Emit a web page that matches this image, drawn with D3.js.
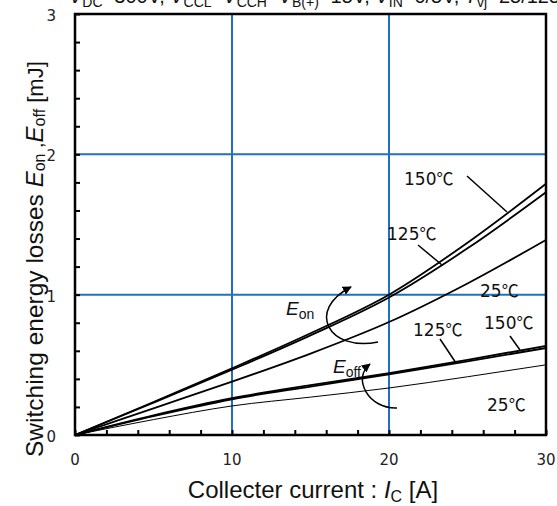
<!DOCTYPE html>
<html>
<head>
<meta charset="utf-8">
<script src="https://cdn.jsdelivr.net/npm/d3@7"></script>
<style>
  html, body { margin: 0; padding: 0; background: #fff; }
  svg { display: block; }
</style>
</head>
<body>
<svg id="chart" width="557" height="506"></svg>
<script>
// Collector current samples [A]
const ic = [0, 5, 10, 15, 20, 25, 30];

// Turn-on energy Eon [mJ]
const eon150 = [0, 0.235, 0.475, 0.725, 1.0, 1.37, 1.79];
const eon125 = [0, 0.23, 0.465, 0.71, 0.98, 1.33, 1.73];
const eon25  = [0, 0.19, 0.38, 0.58, 0.805, 1.08, 1.39];

// Turn-off energy Eoff [mJ]
const eoff150 = [0, 0.14, 0.262, 0.355, 0.44, 0.535, 0.635];
const eoff125 = [0, 0.135, 0.255, 0.345, 0.432, 0.525, 0.62];
const eoff25  = [0, 0.11, 0.207, 0.27, 0.335, 0.415, 0.50];

const xTicks = [0, 10, 20, 30];
const yTicks = [0, 1, 2, 3];

const svg = d3.select("#chart");
const m = { left: 75, right: 546, top: 14, bottom: 435 };

const x = d3.scaleLinear().domain([0, 30]).range([m.left, m.right]);
const y = d3.scaleLinear().domain([0, 3]).range([m.bottom, m.top]);

const blue = "#1f70c1";
const sans = "Liberation Sans, Arial, sans-serif";

// grid
svg.append("g").selectAll("line").data([10, 20]).join("line")
  .attr("x1", d => x(d)).attr("x2", d => x(d))
  .attr("y1", m.top).attr("y2", m.bottom)
  .attr("stroke", blue).attr("stroke-width", 2);
svg.append("g").selectAll("line").data([1, 2]).join("line")
  .attr("x1", m.left).attr("x2", m.right)
  .attr("y1", d => y(d)).attr("y2", d => y(d))
  .attr("stroke", blue).attr("stroke-width", 2);

// inward minor ticks
const xAxis = d3.axisTop(x).tickValues(d3.range(0, 31, 2)).tickSize(5).tickFormat("");
const yAxis = d3.axisRight(y).tickValues(d3.range(0, 3.01, 0.2)).tickSize(5).tickFormat("");
const gx = svg.append("g").attr("transform", `translate(0,${m.bottom})`).call(xAxis);
const gy = svg.append("g").attr("transform", `translate(${m.left},0)`).call(yAxis);
[gx, gy].forEach(g => {
  g.select(".domain").remove();
  g.selectAll("line").attr("stroke", "#000").attr("stroke-width", 2);
});

// tick labels
svg.append("g").selectAll("text").data(xTicks).join("text")
  .attr("x", d => x(d)).attr("y", 465)
  .attr("text-anchor", "middle")
  .attr("font-family", "DejaVu Sans").attr("font-size", 15).attr("fill", "#222")
  .text(d => d);
svg.append("g").selectAll("text").data(yTicks).join("text")
  .attr("x", 56).attr("y", d => y(d) + 7)
  .attr("text-anchor", "end")
  .attr("font-family", "DejaVu Sans").attr("font-size", 15).attr("fill", "#222")
  .text(d => d);

// curves
const line = d3.line().x((d, i) => x(ic[i])).y(d => y(d)).curve(d3.curveMonotoneX);
const series = [
  { v: eon150, w: 1.8 }, { v: eon125, w: 1.8 }, { v: eon25, w: 1.8 },
  { v: eoff150, w: 1.9 }, { v: eoff125, w: 1.9 }, { v: eoff25, w: 1 }
];
svg.append("g").selectAll("path").data(series).join("path")
  .attr("d", d => line(d.v))
  .attr("fill", "none").attr("stroke", "#000").attr("stroke-width", d => d.w);

// frame
svg.append("rect")
  .attr("x", m.left).attr("y", m.top)
  .attr("width", m.right - m.left).attr("height", m.bottom - m.top)
  .attr("fill", "none").attr("stroke", "#000").attr("stroke-width", 2.5);

// temperature labels with leader lines
const labels = [
  { n: "150", x: 404, y: 185, l: [467, 176, 507, 212] },
  { n: "125", x: 387, y: 240, l: [418, 245, 442, 265] },
  { n: "25",  x: 480, y: 297 },
  { n: "125", x: 413, y: 336, l: [440, 339, 456, 363] },
  { n: "150", x: 484, y: 329, l: [510, 336, 520, 350] },
  { n: "25",  x: 487, y: 411 }
];
const lg = svg.append("g");
labels.forEach(d => {
  const t = lg.append("text").attr("x", d.x).attr("y", d.y)
    .attr("font-family", "DejaVu Sans").attr("font-size", 17).attr("fill", "#111");
  t.append("tspan").text(d.n);
  t.append("tspan").attr("font-family", "Noto Sans CJK JP").text("℃");
  if (d.l) {
    lg.append("line").attr("x1", d.l[0]).attr("y1", d.l[1]).attr("x2", d.l[2]).attr("y2", d.l[3])
      .attr("stroke", "#000").attr("stroke-width", 1.5);
  }
});

// Eon / Eoff group labels
function subLabel(px, py, main, sub) {
  const t = svg.append("text").attr("x", px).attr("y", py)
    .attr("font-family", sans).attr("font-size", 19).attr("fill", "#111");
  t.append("tspan").attr("font-style", "italic").text(main);
  t.append("tspan").attr("font-size", 14).attr("dy", 4).text(sub);
}
subLabel(286, 315, "E", "on");
subLabel(333, 373, "E", "off");

// curved arrows
svg.append("defs").append("marker")
  .attr("id", "head").attr("viewBox", "0 0 10 10")
  .attr("refX", 9).attr("refY", 5)
  .attr("markerWidth", 9).attr("markerHeight", 9)
  .attr("markerUnits", "userSpaceOnUse")
  .attr("orient", "auto")
  .append("path").attr("d", "M0,0 L10,5 L0,10 Z").attr("fill", "#000");
svg.append("path").attr("d", "M378,342 C328,352 306,310 351,287")
  .attr("fill", "none").attr("stroke", "#000").attr("stroke-width", 1.5)
  .attr("marker-end", "url(#head)");
svg.append("path").attr("d", "M397,408 C368,409 352,378 370,364")
  .attr("fill", "none").attr("stroke", "#000").attr("stroke-width", 1.5)
  .attr("marker-end", "url(#head)");

// axis titles
const xt = svg.append("text").attr("x", 313).attr("y", 498).attr("text-anchor", "middle")
  .attr("font-family", sans).attr("font-size", 24).attr("fill", "#111");
xt.append("tspan").text("Collecter current : ");
xt.append("tspan").attr("font-style", "italic").text("I");
xt.append("tspan").attr("font-size", 16).attr("dy", 4).text("C");
xt.append("tspan").attr("dy", -4).text(" [A]");

// y title, drawn upward from the bottom of the plot
const yt = svg.append("text").attr("transform", "translate(43,457) rotate(-90)")
  .attr("text-anchor", "start")
  .attr("font-family", sans).attr("font-size", 24.5).attr("fill", "#111");
yt.append("tspan").text("Switching energy losses ");
yt.append("tspan").attr("font-style", "italic").attr("font-size", 24).text("E");
yt.append("tspan").attr("font-size", 16).attr("dy", 2).text("on");
yt.append("tspan").attr("font-size", 20).attr("dy", -2).text(" ,");
yt.append("tspan").attr("font-style", "italic").attr("font-size", 24).text("E");
yt.append("tspan").attr("font-size", 16).attr("dy", 2).text("off");
yt.append("tspan").attr("font-size", 22).attr("dy", -2).text(" [mJ]");

// test conditions line along the top edge
const cond = [
  ["V", "DC", "=300V, "], ["V", "CCL", "="], ["V", "CCH", "="], ["V", "B(+)", "=15V, "],
  ["V", "IN", "=0/5V, "], ["T", "vj", "=25/125/150℃"]
];
const ct = svg.append("text").attr("x", 69).attr("y", 3)
  .attr("font-family", sans).attr("font-size", 20).attr("fill", "#111");
cond.forEach(c => {
  ct.append("tspan").attr("font-style", "italic").text(c[0]);
  ct.append("tspan").attr("font-size", 14).attr("dy", 4).text(c[1]);
  ct.append("tspan").attr("dy", -4).text(c[2]);
});
</script>
</body>
</html>
